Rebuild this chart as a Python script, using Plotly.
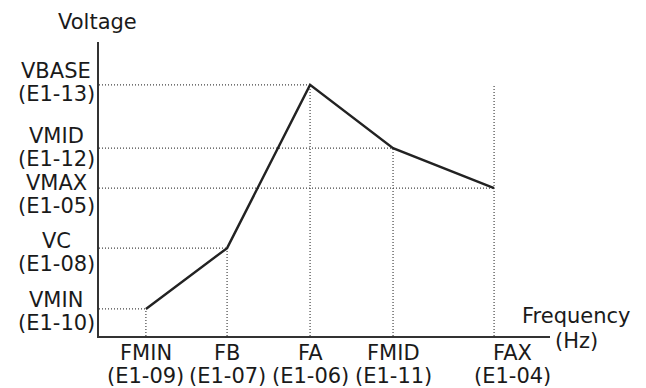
import plotly.graph_objects as go

# ---- data ----
freq_names = ["FMIN", "FB", "FA", "FMID", "FAX"]
freq_codes = ["(E1-09)", "(E1-07)", "(E1-06)", "(E1-11)", "(E1-04)"]
freq_values = [1.04, 2.84, 4.68, 6.52, 8.76]

volt_names = ["VMIN", "VC", "VBASE", "VMID", "VMAX"]
volt_codes = ["(E1-10)", "(E1-08)", "(E1-13)", "(E1-12)", "(E1-05)"]
volt_values = [0.92, 2.99, 8.54, 6.39, 5.03]

FONT = "DejaVu Sans, Liberation Sans, Arial, sans-serif"
TXT = "#1a1a1a"
GUIDE = "#444444"
LBL = 21
TTL = 21

# small vertical nudges of the two-line y labels (pixels, positive = down), as in the reference
label_nudge = {"VMIN": 2, "VC": 4, "VBASE": -3, "VMID": -1.5, "VMAX": 5.5}

fig = go.Figure()

vmax_level = max(volt_values)
n = len(freq_values)
for i, (fx, vy) in enumerate(zip(freq_values, volt_values)):
    fig.add_trace(go.Scatter(x=[0, fx], y=[vy, vy], mode="lines",
                             line=dict(color=GUIDE, width=1.2, dash="1px,2px"),
                             hoverinfo="skip", showlegend=False))
    top = vmax_level if i == n - 1 else vy
    fig.add_trace(go.Scatter(x=[fx, fx], y=[0, top], mode="lines",
                             line=dict(color=GUIDE, width=1.2, dash="1px,2px"),
                             hoverinfo="skip", showlegend=False))

fig.add_trace(go.Scatter(x=freq_values, y=volt_values, mode="lines",
                         line=dict(color="#222222", width=2.4),
                         showlegend=False))

ann = []
for name, code, vy in zip(volt_names, volt_codes, volt_values):
    c = label_nudge.get(name, 0)
    ann.append(dict(x=0, y=vy, xref="paper", yref="y", text=name, showarrow=False,
                    xanchor="center", yanchor="middle", yshift=11 - c, xshift=-43,
                    font=dict(family=FONT, size=LBL, color=TXT)))
    ann.append(dict(x=0, y=vy, xref="paper", yref="y", text=code, showarrow=False,
                    xanchor="center", yanchor="middle", yshift=-12 - c, xshift=-43,
                    font=dict(family=FONT, size=LBL, color=TXT)))
for i, (name, code, fx) in enumerate(zip(freq_names, freq_codes, freq_values)):
    xs = 18 if i == n - 1 else 0
    ann.append(dict(x=fx, y=0, xref="x", yref="paper", text=name, showarrow=False,
                    xanchor="center", yanchor="middle", yshift=-17, xshift=xs,
                    font=dict(family=FONT, size=LBL, color=TXT)))
    ann.append(dict(x=fx, y=0, xref="x", yref="paper", text=code, showarrow=False,
                    xanchor="center", yanchor="middle", yshift=-40, xshift=xs,
                    font=dict(family=FONT, size=LBL, color=TXT)))
ann.append(dict(x=0, y=1, xref="paper", yref="paper", text="Voltage", showarrow=False,
                xanchor="center", yanchor="middle", yshift=20, xshift=-2,
                font=dict(family=FONT, size=TTL, color=TXT)))
ann.append(dict(x=1, y=0, xref="paper", yref="paper", text="Frequency", showarrow=False,
                xanchor="left", yanchor="middle", yshift=20, xshift=-30,
                font=dict(family=FONT, size=TTL, color=TXT)))
ann.append(dict(x=1, y=0, xref="paper", yref="paper", text="(Hz)", showarrow=False,
                xanchor="left", yanchor="middle", yshift=-5, xshift=3,
                font=dict(family=FONT, size=TTL, color=TXT)))

# the page body has an 8px default margin, so the figure is 8px smaller and margins shifted
fig.update_layout(
    width=638, height=380,
    margin=dict(l=91, r=96, t=34, b=52),
    paper_bgcolor="white", plot_bgcolor="white",
    annotations=ann,
    xaxis=dict(range=[0, 10], showgrid=False, zeroline=False, showticklabels=False,
               ticks="", showline=True, linecolor="#333333", linewidth=1.6),
    yaxis=dict(range=[0, 10], showgrid=False, zeroline=False, showticklabels=False,
               ticks="", showline=True, linecolor="#333333", linewidth=1.6),
)

fig.write_html("out.html")
